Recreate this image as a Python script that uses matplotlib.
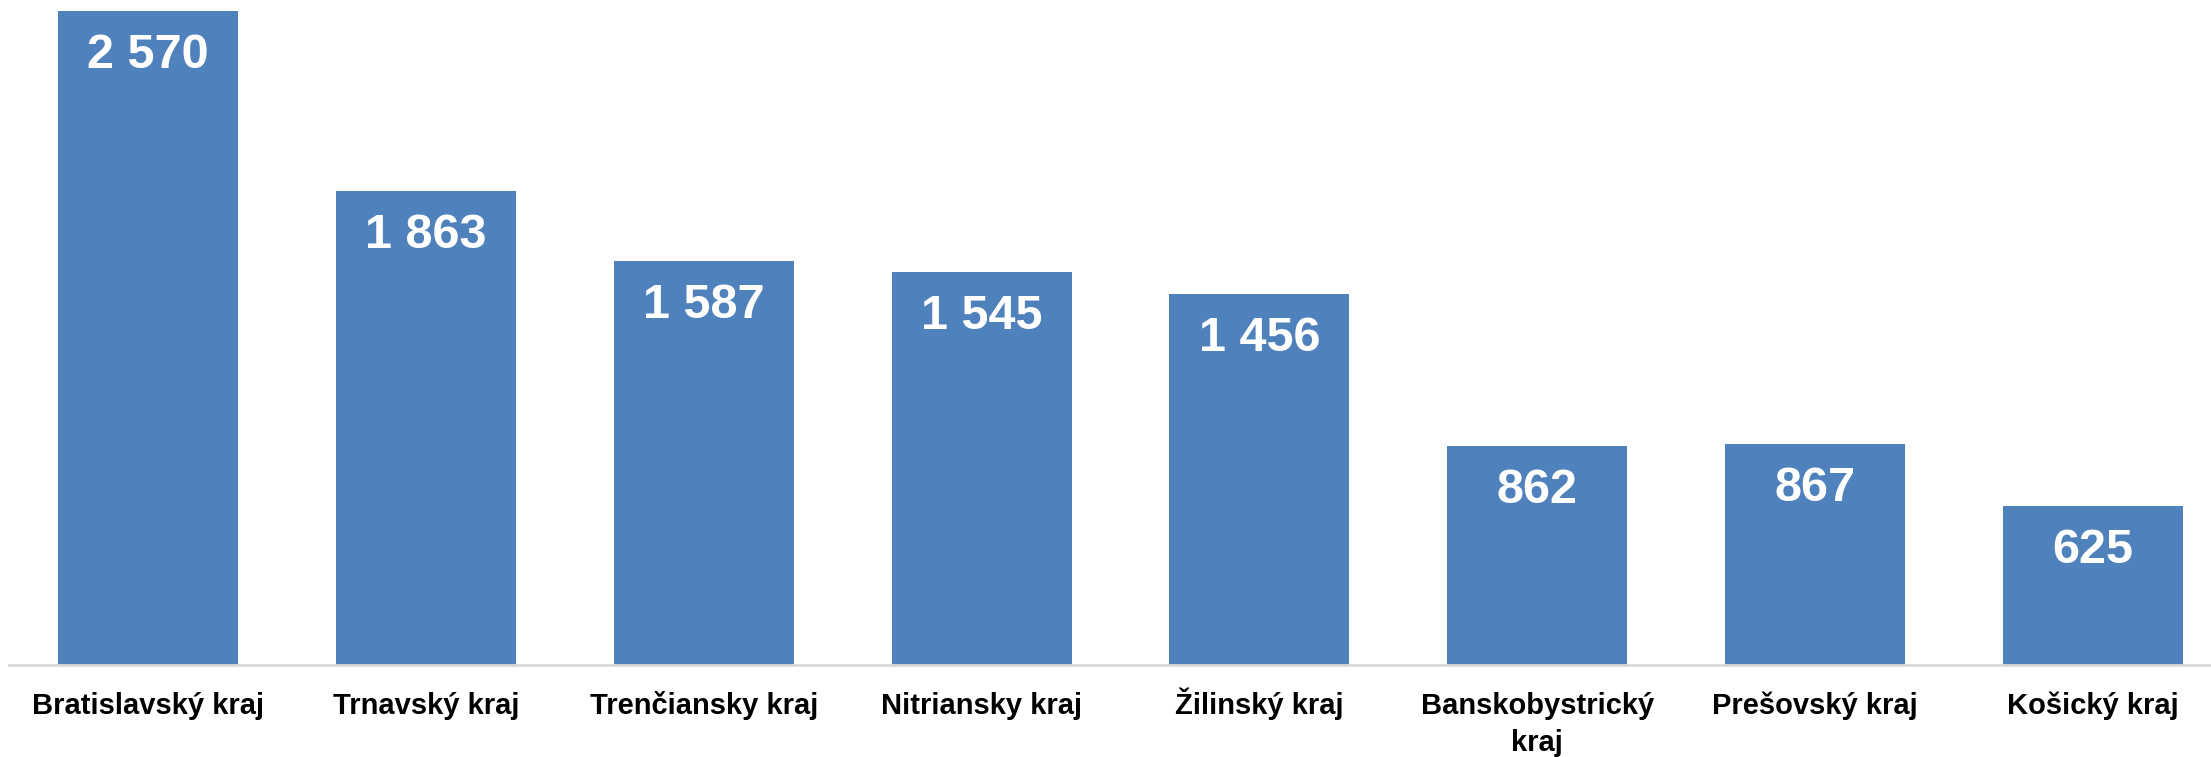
import matplotlib
matplotlib.use("Agg")
import matplotlib.pyplot as plt
import matplotlib.transforms as mtransforms
import numpy as np

# regions and values
regions = ["Bratislavský kraj", "Trnavský kraj", "Trenčiansky kraj", "Nitriansky kraj",
           "Žilinský kraj", "Banskobystrický\nkraj", "Prešovský kraj", "Košický kraj"]
values = [2570, 1863, 1587, 1545, 1456, 862, 867, 625]
value_labels = ["2 570", "1 863", "1 587", "1 545", "1 456", "862", "867", "625"]

W, H = 2211, 757
fig = plt.figure(figsize=(W / 100, H / 100), dpi=100)
# plot area runs a bit past the right edge of the picture (cropped in the original)
ax = fig.add_axes([9 / W, (H - 665) / H, 2223 / W, 665 / H])

x = np.arange(len(regions))
ax.bar(x, values, width=0.648, color="#4F81BD", zorder=2)

for xi, v, lab in zip(x, values, value_labels):
    ax.annotate(lab, (xi, v), xytext=(0, -22), textcoords="offset pixels",
                ha="center", va="top", color="white", fontsize=35,
                fontweight="bold", family="Liberation Sans")

ax.set_xlim(-0.5, len(regions) - 0.5)
ax.set_ylim(0, 2613)
ax.set_xticks([])
ax.set_yticks([])

# category labels, each line on its own baseline below the axis
for xi, lab in zip(x, regions):
    for i, line in enumerate(lab.split("\n")):
        off = mtransforms.ScaledTranslation(0, -(49 + 37 * i) / 100, fig.dpi_scale_trans)
        ax.text(xi, 0, line, transform=ax.get_xaxis_transform() + off,
                ha="center", va="baseline", fontsize=21, fontweight="bold",
                family="Liberation Sans", clip_on=False)

for s in ["top", "right", "left"]:
    ax.spines[s].set_visible(False)
ax.spines["bottom"].set_color("#d9d9d9")
ax.spines["bottom"].set_linewidth(2)

fig.savefig("out.png", dpi=100)
